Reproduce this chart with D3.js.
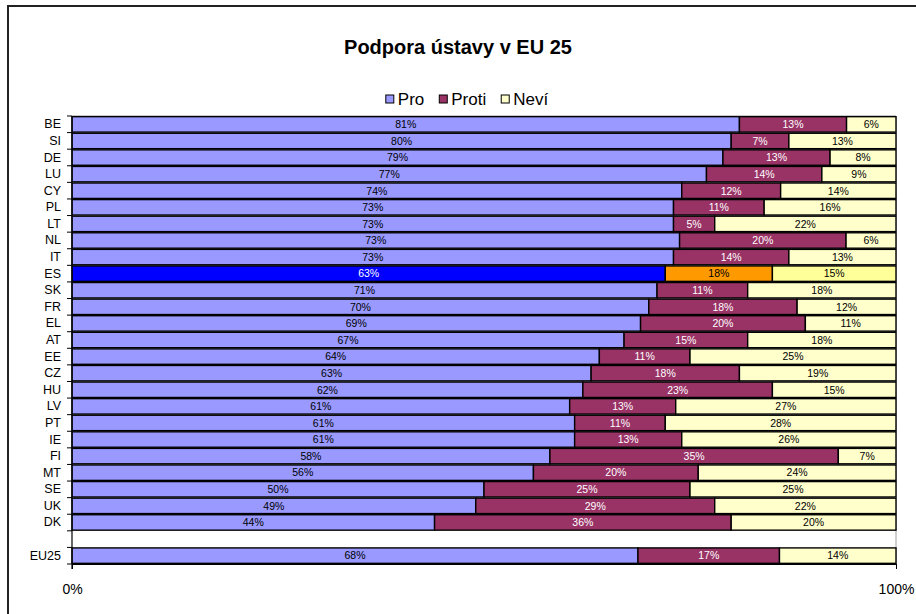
<!DOCTYPE html>
<html>
<head>
<meta charset="utf-8">
<script src="https://cdn.jsdelivr.net/npm/d3@7"></script>
<style>
  html, body { margin: 0; padding: 0; background: #fff; }
  svg { display: block; font-family: Arial, "Liberation Sans", sans-serif; }
</style>
</head>
<body>
<svg id="chart" width="916" height="614"></svg>
<script>
// ---- data ----
const categories = ["BE","SI","DE","LU","CY","PL","LT","NL","IT","ES","SK","FR","EL","AT","EE","CZ","HU","LV","PT","IE","FI","MT","SE","UK","DK"," ","EU25"];
const pro   = [81,80,79,77,74,73,73,73,73,63,71,70,69,67,64,63,62,61,61,61,58,56,50,49,44,null,68];
const proti = [13,7,13,14,12,11,5,20,14,18,11,18,20,15,11,18,23,13,11,13,35,20,25,29,36,null,17];
const nevi  = [6,13,8,9,14,16,22,6,13,15,18,12,11,18,25,19,15,27,28,26,7,24,25,22,20,null,14];
// the ES bar is drawn with different lengths than its printed labels
const highlight = "ES";
const highlightBar = [72,13,15];
const seriesNames = ["Pro","Proti","Neví"];
const colors = ["#9999FF","#993366","#FFFFCC"];
const highlightColors = ["#0000FF","#FF9900","#FFFF99"];
const labelColors = ["#000","#fff","#000"];
const highlightLabelColors = ["#fff","#000","#000"];
const xTicks = [0, 1];
const title = "Podpora ústavy v EU 25";

// ---- layout ----
const svg = d3.select("#chart");
const m = {left: 72, right: 896, top: 116, bottom: 564};

svg.append("rect").attr("x", 8).attr("y", 6).attr("width", 940).attr("height", 640)
  .attr("fill", "#fff").attr("stroke", "#222").attr("stroke-width", 2);

svg.append("text").attr("x", 458).attr("y", 54).attr("text-anchor", "middle")
  .attr("font-size", 20).attr("font-weight", "bold").text(title);

const x = d3.scaleLinear().domain([0, 1]).range([m.left, m.right]);
const y = d3.scaleBand().domain(categories).range([m.top, m.bottom]).paddingInner(0.07).paddingOuter(0.04);

// plot area frame (light grey, top and right)
svg.append("path")
  .attr("d", `M${m.left},${m.top}H${m.right}V${m.bottom}`)
  .attr("fill", "none").attr("stroke", "#a0a0a0").attr("stroke-width", 1);

// rows
const rows = categories.map((c, i) => {
  if (pro[i] == null) return null;
  const labels = [pro[i], proti[i], nevi[i]];
  const vals = c === highlight ? highlightBar : labels;
  const total = d3.sum(vals);
  let acc = 0;
  const segs = vals.map((v, k) => {
    const s = {cat: c, k, x0: acc / total, x1: (acc + v) / total, label: labels[k] + "%", hl: c === highlight};
    acc += v;
    return s;
  });
  return segs;
}).filter(d => d);

const segs = rows.flat();
const g = svg.append("g");
g.selectAll("rect.seg").data(segs).join("rect")
  .attr("class", "seg")
  .attr("x", d => x(d.x0))
  .attr("y", d => y(d.cat))
  .attr("width", d => x(d.x1) - x(d.x0))
  .attr("height", y.bandwidth())
  .attr("fill", d => d.hl ? highlightColors[d.k] : colors[d.k])
  .attr("stroke", "#000").attr("stroke-width", 1.4);

g.selectAll("text.lab").data(segs).join("text")
  .attr("class", "lab")
  .attr("x", d => (x(d.x0) + x(d.x1)) / 2)
  .attr("y", d => y(d.cat) + y.bandwidth() / 2)
  .attr("dy", "0.36em")
  .attr("text-anchor", "middle")
  .attr("font-size", 10.5)
  .attr("fill", d => d.hl ? highlightLabelColors[d.k] : labelColors[d.k])
  .text(d => d.label);

// y axis
const yAxis = d3.axisLeft(y).tickSize(0).tickPadding(11);
const ya = svg.append("g").attr("transform", `translate(${m.left},0)`).call(yAxis);
ya.select(".domain").remove();
ya.selectAll("text").attr("font-size", 12.5).attr("font-family", "Arial, 'Liberation Sans', sans-serif").attr("fill", "#000");
// boundary ticks
const bounds = d3.range(categories.length + 1).map(i => m.top + i * (m.bottom - m.top) / categories.length);
svg.append("g").selectAll("line").data(bounds).join("line")
  .attr("x1", m.left - 5).attr("x2", m.left).attr("y1", d => d).attr("y2", d => d)
  .attr("stroke", "#000").attr("stroke-width", 1);
svg.append("line").attr("x1", m.left).attr("x2", m.left).attr("y1", m.top).attr("y2", m.bottom + 5)
  .attr("stroke", "#000").attr("stroke-width", 1.2);

// x axis
const xAxis = d3.axisBottom(x).tickValues(xTicks).tickFormat(d3.format(".0%")).tickSize(5).tickPadding(15);
const xa = svg.append("g").attr("transform", `translate(0,${m.bottom})`).call(xAxis);
xa.select(".domain").attr("stroke", "#000");
xa.selectAll("text").attr("font-size", 14).attr("font-family", "Arial, 'Liberation Sans', sans-serif").attr("fill", "#000");

// legend
const leg = svg.append("g");
let lx = 0;
const items = leg.selectAll("g").data(seriesNames).join("g");
items.each(function(name, k) {
  const it = d3.select(this);
  it.append("rect").attr("x", 0).attr("y", -4).attr("width", 8).attr("height", 8)
    .attr("fill", colors[k]).attr("stroke", "#000").attr("stroke-width", 1);
  const t = it.append("text").attr("x", 12).attr("y", 0).attr("dy", "0.36em")
    .attr("font-size", 17).text(name);
  const w = 12 + t.node().getComputedTextLength();
  it.attr("transform", `translate(${lx},0)`);
  lx += w + 15;
});
const legW = lx - 15;
leg.attr("transform", `translate(${467 - legW / 2},99)`);
</script>
</body>
</html>
